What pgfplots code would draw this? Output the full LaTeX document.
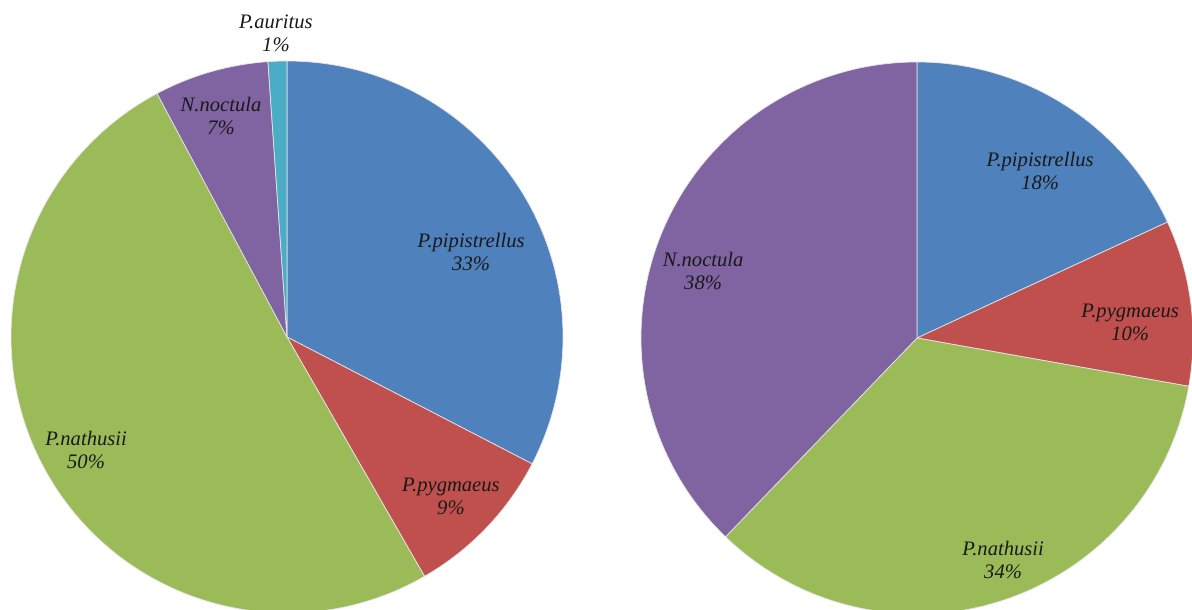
\documentclass[border=0pt]{standalone}
\usepackage{pgfplots}
\pgfplotsset{compat=1.18}
\usepackage{fontspec}
\setmainfont{Liberation Serif}

\definecolor{cblue}{HTML}{4F81BD}
\definecolor{cred}{HTML}{C0504D}
\definecolor{cgreen}{HTML}{9BBB59}
\definecolor{cpurple}{HTML}{8064A2}
\definecolor{caqua}{HTML}{4BACC6}

% slice from cumulative percent #1 to #2, clockwise from 12 o'clock
\newcommand{\slice}[3]{%
  \fill[#3, draw=white!80!gray, line width=0.7pt]
    (axis cs:0,0) -- (axis cs:{cos(90-3.6*(#1))},{sin(90-3.6*(#1))})
    arc[start angle={90-3.6*(#1)}, end angle={90-3.6*(#2)}, radius=276pt] -- cycle;}

\pgfplotsset{
  pie/.style={
    anchor=origin, x=276pt, y=276pt,
    xmin=-1.2, xmax=1.2, ymin=-1.2, ymax=1.2,
    hide axis, clip=false,
  },
}
\tikzset{lbl/.style={align=center, text=black!90, font=\fontsize{20.6}{23}\selectfont\itshape}}

\begin{document}
\begin{tikzpicture}
\clip (0,0) rectangle (1192pt,610pt);

\begin{axis}[pie, at={(287pt,273pt)}]
  \slice{0}{32.6}{cblue}
  \slice{32.6}{41.7}{cred}
  \slice{41.7}{92.2}{cgreen}
  \slice{92.2}{98.9}{cpurple}
  \slice{98.9}{100}{caqua}
  \node[lbl] at (axis cs:0.667,0.308) {P.pipistrellus\\33\%};
  \node[lbl] at (axis cs:0.594,-0.576) {P.pygmaeus\\9\%};
  \node[lbl] at (axis cs:-0.728,-0.409) {P.nathusii\\50\%};
  \node[lbl] at (axis cs:-0.239,0.801) {N.noctula\\7\%};
  \node[lbl] at (axis cs:-0.040,1.101) {P.auritus\\1\%};
\end{axis}

\begin{axis}[pie, at={(917pt,272pt)}]
  \slice{0}{18.1}{cblue}
  \slice{18.1}{27.8}{cred}
  \slice{27.8}{62.2}{cgreen}
  \slice{62.2}{100}{cpurple}
  \node[lbl] at (axis cs:0.446,0.605) {P.pipistrellus\\18\%};
  \node[lbl] at (axis cs:0.772,0.058) {P.pygmaeus\\10\%};
  \node[lbl] at (axis cs:0.312,-0.804) {P.nathusii\\34\%};
  \node[lbl] at (axis cs:-0.775,0.243) {N.noctula\\38\%};
\end{axis}
\end{tikzpicture}
\end{document}
